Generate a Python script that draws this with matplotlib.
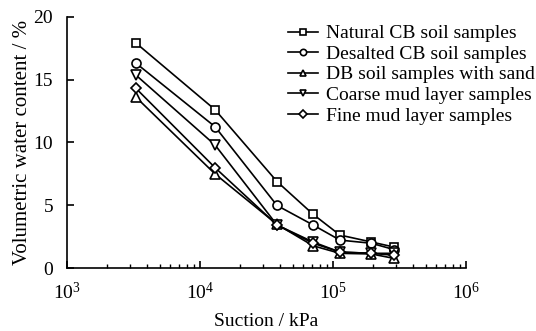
import matplotlib
matplotlib.use("Agg")
import matplotlib.pyplot as plt
from matplotlib.ticker import LogLocator, LogFormatterMathtext

plt.rcParams['font.family'] = ['Liberation Serif', 'DejaVu Serif']
plt.rcParams['mathtext.fontset'] = 'custom'
plt.rcParams['mathtext.rm'] = 'Liberation Serif'
plt.rcParams['mathtext.it'] = 'Liberation Serif:italic'

suction = [3300, 13000, 38000, 71000, 113000, 195000, 288000]
natural_cb = [17.9, 12.6, 6.9, 4.3, 2.65, 2.1, 1.7]
desalted_cb = [16.3, 11.25, 5.0, 3.45, 2.25, 2.0, 1.5]
db_sand = [13.6, 7.5, 3.5, 1.8, 1.2, 1.15, 0.8]
coarse_mud = [15.35, 9.8, 3.45, 2.1, 1.3, 1.2, 1.2]
fine_mud = [14.3, 8.0, 3.45, 2.0, 1.3, 1.2, 1.05]

labels = ["Natural CB soil samples", "Desalted CB soil samples",
          "DB soil samples with sand", "Coarse mud layer samples",
          "Fine mud layer samples"]
series = [natural_cb, desalted_cb, db_sand, coarse_mud, fine_mud]
markers = ['s', 'o', '^', 'v', 'D']
msizes = [6, 6.5, 6.5, 6.5, 5.5]

fig = plt.figure(figsize=(5.36, 3.31), dpi=100)
ax = fig.add_axes([0.125, 0.189, 0.744, 0.761])

for vals, lab, m, ms in zip(series, labels, markers, msizes):
    ax.plot(suction, vals, color='black', lw=1.2, marker=m, ms=ms,
            mfc='white', mec='black', mew=1.2, label=lab)

ax.set_xscale('log')
ax.set_xlim(1e3, 1e6)
ax.set_ylim(0, 20)
ax.set_yticks([0, 5, 10, 15, 20])
ax.xaxis.set_major_locator(LogLocator(base=10, numticks=10))
ax.xaxis.set_minor_locator(LogLocator(base=10, subs=range(2, 10), numticks=20))
ax.xaxis.set_major_formatter(LogFormatterMathtext())

for s in ['top', 'right']:
    ax.spines[s].set_visible(False)
for s in ['left', 'bottom']:
    ax.spines[s].set_linewidth(1.2)

ax.tick_params(axis='both', which='major', direction='in', length=5, width=1.2,
               labelsize=14, pad=10)
ax.tick_params(axis='x', which='minor', direction='in', length=3, width=1.0)
ax.tick_params(axis='y', which='both', right=False)
ax.tick_params(axis='x', which='both', top=False)

ax.set_xlabel("Suction / kPa", fontsize=14, labelpad=7)
ax.set_ylabel("Volumetric water content / %", fontsize=15, labelpad=1)

leg = ax.legend(loc='upper right', bbox_to_anchor=(0.998, 0.925),
                bbox_transform=fig.transFigure, frameon=False, fontsize=14,
                handlelength=1.55, handletextpad=0.4, labelspacing=0.15,
                markerscale=0.7, borderaxespad=0, borderpad=0)

fig.savefig("out.png", dpi=100)
